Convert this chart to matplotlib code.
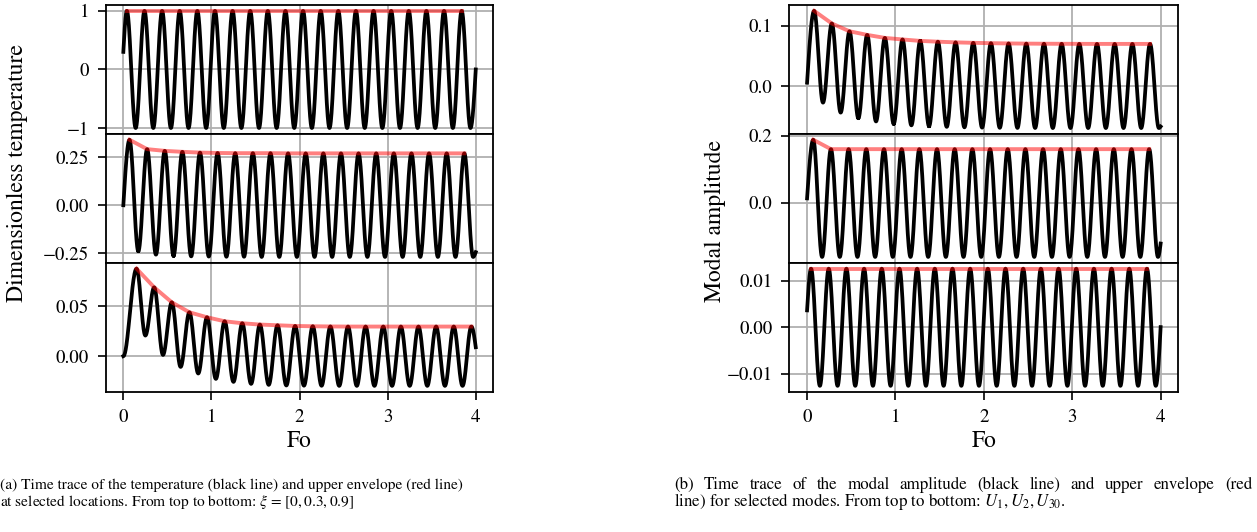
import numpy as np
import matplotlib
matplotlib.use("Agg")
import matplotlib.pyplot as plt

plt.rcParams.update({
    "font.family": "STIXGeneral", "mathtext.fontset": "stix",
    "font.size": 13.6, "xtick.labelsize": 13.6, "ytick.labelsize": 13.6,
    "axes.labelsize": 17, "axes.linewidth": 1.3,
    "xtick.major.size": 6, "ytick.major.size": 6,
    "xtick.major.width": 1.2, "ytick.major.width": 1.2,
    "xtick.major.pad": 6, "ytick.major.pad": 6,
    "axes.grid": True, "grid.color": "#b0b0b0", "grid.linewidth": 1.3,
})

PERIOD = 0.2
FO_END = 4.0

# (a) temperature at xi = 0, 0.3, 0.9
a1_start, a1_end = 0.30, 0.0
a1_first_peak, a1_first_trough = 0.04, 0.14
a1_peaks = [1.0] * 20
a1_troughs = [-1.0] * 20

a2_start, a2_end = 0.0, -0.245
a2_first_peak, a2_first_trough = 0.07, 0.17
a2_peaks = [0.342, 0.293, 0.284, 0.279, 0.275, 0.273, 0.272, 0.272, 0.272, 0.271,
            0.271, 0.271, 0.271, 0.271, 0.271, 0.271, 0.271, 0.271, 0.271, 0.271]
a2_troughs = [-0.240, -0.258, -0.264, -0.267, -0.268, -0.269, -0.269, -0.270, -0.270, -0.270,
              -0.270, -0.270, -0.270, -0.270, -0.270, -0.270, -0.270, -0.270, -0.270, -0.270]

a3_start, a3_end = 0.0, 0.009
a3_first_peak, a3_first_trough = 0.15, 0.25
a3_peaks = [0.0877, 0.069, 0.054, 0.044, 0.039, 0.035, 0.033, 0.0317, 0.031, 0.0303,
            0.0300, 0.0298, 0.0297, 0.0297, 0.0297, 0.0297, 0.0297, 0.0297, 0.0297, 0.0297]
a3_troughs = [0.0207, 0.0013, -0.0107, -0.0173, -0.0227, -0.0257, -0.0277, -0.0287, -0.0293, -0.0295,
              -0.0296, -0.0297, -0.0297, -0.0297, -0.0297, -0.0297, -0.0297, -0.0297, -0.0297]

# (b) modal amplitudes U1, U2, U30
b1_start, b1_end = 0.0055, -0.0675
b1_first_peak, b1_first_trough = 0.08, 0.18
b1_peaks = [0.125, 0.104, 0.091, 0.085, 0.080, 0.0774, 0.075, 0.0737, 0.0726, 0.0718,
            0.0712, 0.0708, 0.0705, 0.0703, 0.0702, 0.0701, 0.070, 0.070, 0.070, 0.070]
b1_troughs = [-0.0277, -0.0443, -0.0536, -0.059, -0.063, -0.0655, -0.067, -0.068, -0.0688, -0.0693,
              -0.0696, -0.0698, -0.0699, -0.070, -0.070, -0.070, -0.070, -0.070, -0.070, -0.070]

b2_start, b2_end = 0.013, -0.122
b2_first_peak, b2_first_trough = 0.07, 0.17
b2_peaks = [0.188] + [0.160] * 19
b2_troughs = [-0.162] * 20

b3_start, b3_end = 0.0036, 0.0
b3_first_peak, b3_first_trough = 0.045, 0.145
b3_peaks = [0.01257] * 20
b3_troughs = [-0.01264] * 20

a_ticks = [[-1, 0, 1], [-0.25, 0.0, 0.25], [0.0, 0.05]]
b_ticks = [[0.0, 0.1], [0.0, 0.2], [-0.01, 0.0, 0.01]]


def trace(start, end, first_peak, first_trough, peaks, troughs, flat_start=False):
    tp = first_peak + PERIOD * np.arange(len(peaks))
    tt = first_trough + PERIOD * np.arange(len(troughs))
    ext = sorted(list(zip(tp, peaks)) + list(zip(tt, troughs)))
    nodes = [(0.0, start)] + ext + [(FO_END, end)]
    xs, ys = [], []
    for i in range(len(nodes) - 1):
        (t0, v0), (t1, v1) = nodes[i], nodes[i + 1]
        s = np.linspace(0, 1, 40)
        if i == 0 and not flat_start:
            w = np.sin(np.pi / 2 * s)
        elif i == len(nodes) - 2:
            w = 1 - np.cos(np.pi / 2 * s)
        else:
            w = (1 - np.cos(np.pi * s)) / 2
        xs.append(t0 + (t1 - t0) * s)
        ys.append(v0 + (v1 - v0) * w)
    return np.concatenate(xs), np.concatenate(ys), tp, np.array(peaks)


def column(fig, left, right, series, ticks):
    gs = fig.add_gridspec(3, 1, left=left, right=right, top=0.9906,
                          bottom=0.2637, hspace=0)
    axes = []
    for i, (args, yt) in enumerate(zip(series, ticks)):
        ax = fig.add_subplot(gs[i], sharex=axes[0] if axes else None)
        x, y, tp, vp = trace(*args)
        ax.plot(x, y, color="black", lw=2.7, zorder=3)
        ax.plot(tp, vp, color="red", lw=2.8, alpha=0.5, zorder=4)
        ax.set_yticks(yt)
        ax.set_axisbelow(True)
        if i < 2:
            ax.tick_params(axis="x", bottom=False, labelbottom=False)
        axes.append(ax)
    axes[-1].set_xticks([0, 1, 2, 3, 4])
    axes[-1].set_xlabel("Fo")
    return axes


def justified(fig, x0, x1, y, s, size):
    """One caption line stretched between two pixel positions, like LaTeX does."""
    W = fig.get_figwidth() * fig.dpi
    words = s.split(" ")
    r = fig.canvas.get_renderer()
    texts = [fig.text(0, y, w, fontsize=size, va="center", ha="left") for w in words]
    widths = [t.get_window_extent(r).width for t in texts]
    gap = (x1 - x0 - sum(widths)) / (len(words) - 1)
    x = x0
    for t, w in zip(texts, widths):
        t.set_x(x / W)
        x += w + gap


fig = plt.figure(figsize=(12.57, 5.32), dpi=100)

column(fig, 0.0841, 0.3925, [
    (a1_start, a1_end, a1_first_peak, a1_first_trough, a1_peaks, a1_troughs),
    (a2_start, a2_end, a2_first_peak, a2_first_trough, a2_peaks, a2_troughs),
    (a3_start, a3_end, a3_first_peak, a3_first_trough, a3_peaks, a3_troughs, True),
], a_ticks)
column(fig, 0.628, 0.9374, [
    (b1_start, b1_end, b1_first_peak, b1_first_trough, b1_peaks, b1_troughs),
    (b2_start, b2_end, b2_first_peak, b2_first_trough, b2_peaks, b2_troughs),
    (b3_start, b3_end, b3_first_peak, b3_first_trough, b3_peaks, b3_troughs),
], b_ticks)

fig.text(0.0135, 0.432, "Dimensionless temperature", rotation=90,
         ha="center", va="bottom", fontsize=17)
fig.text(0.569, 0.432, "Modal amplitude", rotation=90,
         ha="center", va="bottom", fontsize=17)

y1, y2 = 1 - 485 / 532, 1 - 502 / 532
fig.text(0.0, y1, "(a) Time trace of the temperature (black line) and upper envelope (red line)",
         ha="left", va="center", fontsize=11.1)
fig.text(0.0, y2, r"at selected locations. From top to bottom: $\xi$ = $[0, 0.3, 0.9]$",
         ha="left", va="center", fontsize=11.1)
justified(fig, 674, 1252, y1,
          "(b) Time trace of the modal amplitude (black line) and upper envelope (red", 12.2)
fig.text(674 / 1257, y2, r"line) for selected modes. From top to bottom: $U_1, U_2, U_{30}$.",
         ha="left", va="center", fontsize=12.2)

fig.savefig("out.png", dpi=100)
